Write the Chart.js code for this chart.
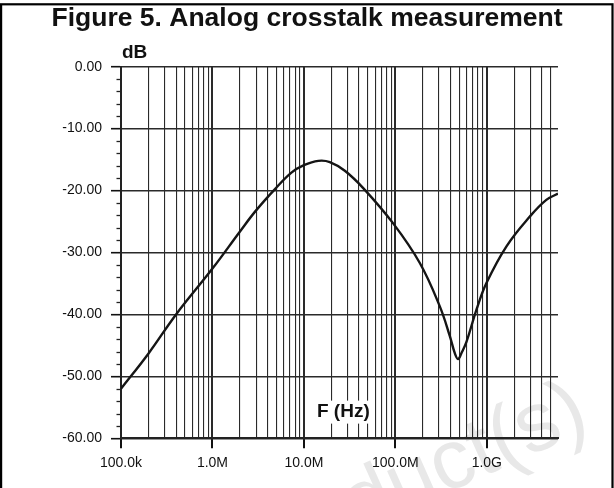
<!DOCTYPE html>
<html>
<head>
<meta charset="utf-8">
<script src="https://cdn.jsdelivr.net/npm/chart.js@4/dist/chart.umd.min.js"></script>
<style>
  html, body { margin: 0; padding: 0; background: #fff; }
  #wrap { width: 614px; height: 488px; }
</style>
</head>
<body>
<div id="wrap"><canvas id="myChart" width="614" height="488"></canvas></div>
<script>
// crosstalk curve
var freqHz = [1e5, 2e5, 4e5, 1e6, 2e6, 3e6, 4.8e6, 7.3e6, 1e7, 1.44e7, 1.92e7, 2.8e7, 4.45e7,
              9.46e7, 1.85e8, 3.06e8, 3.94e8, 4.5e8, 4.86e8, 5.3e8, 6e8, 7.72e8, 9.93e8,
              1.64e9, 2.95e9, 4.47e9, 6e9];
var crosstalkDb = [-52.0, -46.3, -40.0, -32.6, -26.6, -23.2, -19.8, -17.1, -15.9, -15.2, -15.4, -16.8, -19.6,
                   -25.3, -31.7, -38.7, -43.5, -46.4, -47.2, -46.2, -44.4, -39.2, -34.9,
                   -29.0, -24.2, -21.5, -20.5];

var decades = [1e5, 1e6, 1e7, 1e8, 1e9];
var decadeLabels = ['100.0k', '1.0M', '10.0M', '100.0M', '1.0G'];
var xMin = 1e5, xMax = 6e9;
var yMin = -60, yMax = 0;
var yMinorStep = 2;
var titleText = 'Figure 5. Analog crosstalk measurement';

var xGridTicks = [];
decades.forEach(function(d){
  for (var m = 1; m <= 9; m++) {
    if (d * m < xMax) xGridTicks.push(d * m);
  }
});
var yMinorTicks = [];
for (var v = yMin; v <= yMax; v += yMinorStep) {
  if (v % 10 !== 0) yMinorTicks.push(v);
}

function isDecade(val) {
  return decades.some(function(d){ return Math.abs(d - val) < d * 1e-6; });
}

var points = freqHz.map(function(f, i){ return {x: f, y: crosstalkDb[i]}; });

var frame = {
  id: 'frame',
  beforeDraw: function(chart){
    var c = chart.ctx;
    c.save();
    c.fillStyle = '#fff';
    c.fillRect(0, 0, chart.width, chart.height);
    // faint watermark
    c.translate(592, 428);
    c.rotate(-0.42);
    c.font = '84px "Liberation Sans", Arial, sans-serif';
    c.fillStyle = '#e8e8e8';
    c.textAlign = 'right';
    c.fillText('Product(s)', 0, 0);
    c.restore();
  },
  afterDraw: function(chart){
    var c = chart.ctx, a = chart.chartArea;
    var xs = chart.scales.x, ys = chart.scales.y;
    c.save();
    // outer box
    c.strokeStyle = '#000';
    c.lineWidth = 2.2;
    c.strokeRect(1.1, 4.3, chart.width - 2.6, chart.height + 20);
    // title
    c.fillStyle = '#111';
    c.font = 'bold 26.5px "Liberation Sans", Arial, sans-serif';
    c.textAlign = 'center';
    c.textBaseline = 'alphabetic';
    c.fillText(titleText, chart.width / 2, 26);
    // minor y ticks
    c.strokeStyle = '#222';
    c.lineWidth = 1.3;
    yMinorTicks.forEach(function(t){
      var py = Math.round(ys.getPixelForValue(t)) + 0.5;
      c.beginPath();
      c.moveTo(a.left - 4.5, py);
      c.lineTo(a.left, py);
      c.stroke();
    });
    // dB label
    c.fillStyle = '#111';
    c.font = 'bold 19px "Liberation Sans", Arial, sans-serif';
    c.textAlign = 'left';
    c.fillText('dB', a.left + 1, a.top - 8.5);
    // F (Hz) label with white box
    c.textAlign = 'center';
    var tx = xs.getPixelForValue(2.7e7);
    var ty = ys.getPixelForValue(-56.5);
    var w = c.measureText('F (Hz)').width;
    c.fillStyle = '#fff';
    c.fillRect(tx - w / 2 - 3, ty - 16, w + 6, 23);
    c.fillStyle = '#111';
    c.fillText('F (Hz)', tx, ty);
    c.restore();
  }
};

var ctx = document.getElementById('myChart');
var chart = new Chart(ctx, {
  type: 'line',
  data: {
    datasets: [{
      data: points,
      borderColor: '#151515',
      borderWidth: 2.4,
      pointRadius: 0,
      fill: false,
      tension: 0.4
    }]
  },
  options: {
    responsive: false,
    animation: false,
    layout: { padding: { left: 0, right: 56, top: 66.7, bottom: 0 } },
    plugins: {
      legend: { display: false },
      tooltip: { enabled: false },
      title: { display: false }
    },
    scales: {
      x: {
        type: 'logarithmic',
        min: xMin,
        max: xMax,
        afterBuildTicks: function(scale){
          scale.ticks = xGridTicks.map(function(t){ return {value: t}; });
        },
        afterFit: function(scale){ scale.height = 49.7; },
        ticks: {
          autoSkip: false,
          maxRotation: 0,
          padding: 6,
          color: '#111',
          font: { family: '"Liberation Sans", Arial, sans-serif', size: 14 },
          callback: function(value){
            var i = decades.findIndex(function(d){ return Math.abs(d - value) < d * 1e-6; });
            return i >= 0 ? decadeLabels[i] : '';
          }
        },
        grid: {
          color: '#2a2a2a',
          lineWidth: function(c){ return c.tick && isDecade(c.tick.value) ? 2 : 1.1; },
          tickLength: 10,
          tickColor: function(c){ return c.tick && isDecade(c.tick.value) ? '#111' : 'rgba(0,0,0,0)'; },
          tickWidth: 2
        },
        border: { color: '#222', width: 2 }
      },
      y: {
        min: yMin,
        max: yMax,
        afterFit: function(scale){ scale.width = 121; },
        ticks: {
          stepSize: 10,
          padding: 9,
          color: '#111',
          font: { family: '"Liberation Sans", Arial, sans-serif', size: 14 },
          callback: function(value){ return value.toFixed(2); }
        },
        grid: {
          color: '#2a2a2a',
          lineWidth: 1.4,
          tickLength: 10,
          tickColor: '#111',
          tickWidth: 1.6
        },
        border: { color: '#222', width: 2 }
      }
    }
  },
  plugins: [frame]
});
</script>
</body>
</html>
